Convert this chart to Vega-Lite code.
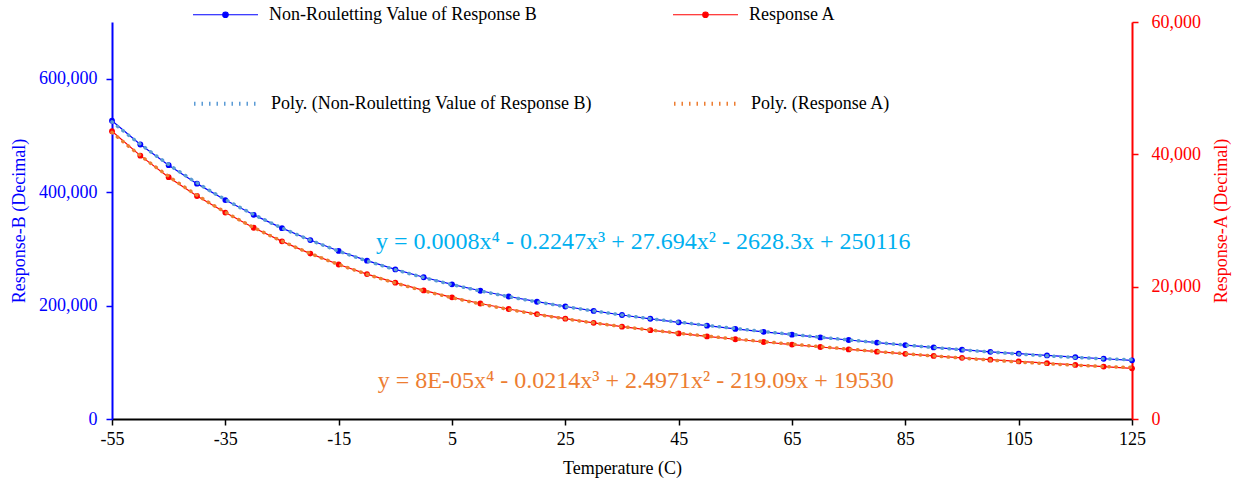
{
  "$schema": "https://vega.github.io/schema/vega-lite/v6.json",
  "width": 1020,
  "height": 397,
  "autosize": "none",
  "padding": {"left": 112, "top": 22, "right": 103, "bottom": 64},
  "background": "white",
  "config": {
    "font": "Liberation Serif",
    "view": {"stroke": null},
    "axis": {"labelFont": "Liberation Serif", "titleFont": "Liberation Serif", "labelFontSize": 18, "titleFontSize": 18, "titleFontWeight": "normal", "grid": false}
  },
  "datasets": {
    "main": [
      {"T": -55, "B": 526000, "A": 43500},
      {"T": -50, "B": 484000, "A": 39800},
      {"T": -45, "B": 447500, "A": 36550},
      {"T": -40, "B": 415000, "A": 33700},
      {"T": -35, "B": 386000, "A": 31200},
      {"T": -30, "B": 360000, "A": 28900},
      {"T": -25, "B": 336500, "A": 26850},
      {"T": -20, "B": 315500, "A": 25000},
      {"T": -15, "B": 296300, "A": 23350},
      {"T": -10, "B": 279200, "A": 21900},
      {"T": -5, "B": 263800, "A": 20600},
      {"T": 0, "B": 250000, "A": 19430},
      {"T": 5, "B": 237500, "A": 18390},
      {"T": 10, "B": 226200, "A": 17460},
      {"T": 15, "B": 216000, "A": 16620},
      {"T": 20, "B": 206800, "A": 15860},
      {"T": 25, "B": 198400, "A": 15170},
      {"T": 30, "B": 190600, "A": 14540},
      {"T": 35, "B": 183400, "A": 13960},
      {"T": 40, "B": 176700, "A": 13430},
      {"T": 45, "B": 170400, "A": 12940},
      {"T": 50, "B": 164500, "A": 12480},
      {"T": 55, "B": 158900, "A": 12050},
      {"T": 60, "B": 153700, "A": 11640},
      {"T": 65, "B": 148700, "A": 11250},
      {"T": 70, "B": 143900, "A": 10880},
      {"T": 75, "B": 139300, "A": 10520},
      {"T": 80, "B": 134800, "A": 10180},
      {"T": 85, "B": 130400, "A": 9850},
      {"T": 90, "B": 126200, "A": 9540},
      {"T": 95, "B": 122200, "A": 9250},
      {"T": 100, "B": 118500, "A": 8970},
      {"T": 105, "B": 115200, "A": 8700},
      {"T": 110, "B": 112100, "A": 8440},
      {"T": 115, "B": 109100, "A": 8180},
      {"T": 120, "B": 106200, "A": 7920},
      {"T": 125, "B": 103400, "A": 7660}
    ],
    "eqB": [{"label": "y = 0.0008x⁴ - 0.2247x³ + 27.694x² - 2628.3x + 250116"}],
    "eqA": [{"label": "y = 8E-05x⁴ - 0.0214x³ + 2.4971x² - 219.09x + 19530"}]
  },
  "data": {"name": "main"},
  "layer": [
    {
      "layer": [
        {
          "mark": {"type": "line", "strokeWidth": 1.2},
          "encoding": {
            "x": {
              "field": "T", "type": "quantitative",
              "scale": {"domain": [-55, 125], "nice": false, "zero": false},
              "axis": {
                "orient": "bottom", "title": "Temperature (C)", "values": [-55, -35, -15, 5, 25, 45, 65, 85, 105, 125],
                "labelExpr": "'' + datum.value", "labelFlush": false,
                "domainColor": "black", "domainWidth": 2, "tickColor": "black", "tickWidth": 1.5, "tickSize": 6,
                "labelColor": "black", "titleColor": "black", "labelPadding": 5, "titlePadding": 11
              }
            },
            "y": {
              "field": "B", "type": "quantitative",
              "scale": {"domain": [0, 700000], "nice": false},
              "axis": {
                "orient": "left", "title": "Response-B (Decimal)", "values": [0, 200000, 400000, 600000], "format": ",d",
                "domainColor": "#0000FF", "domainWidth": 2, "tickColor": "#0000FF", "tickWidth": 1.5, "tickSize": 6,
                "labelColor": "#0000FF", "titleColor": "#0000FF", "labelPadding": 9, "titlePadding": 10
              }
            },
            "color": {"datum": "Non-Rouletting Value of Response B", "type": "nominal",
              "scale": {"domain": ["Non-Rouletting Value of Response B", "Response A"], "range": ["#0000FF", "#FF0000"]},
              "legend": {
                "orient": "none", "legendX": 80, "legendY": -41, "columns": 2, "title": null, "padding": 0,
                "columnPadding": 133, "labelFontSize": 18, "labelFont": "Liberation Serif", "labelColor": "black",
                "labelOffset": 10, "labelLimit": 600, "symbolSize": 4225, "symbolStrokeWidth": 1.2,
                "symbolType": "M-1,0H1M0.085,0A0.085,0.085,0,1,1,-0.085,0A0.085,0.085,0,1,1,0.085,0Z"
              }}
          }
        },
        {
          "mark": {"type": "point", "filled": true, "size": 34, "opacity": 1},
          "encoding": {
            "x": {"field": "T", "type": "quantitative"},
            "y": {"field": "B", "type": "quantitative"},
            "color": {"datum": "Non-Rouletting Value of Response B", "type": "nominal"}
          }
        },
        {
          "transform": [{"regression": "B", "on": "T", "method": "poly", "order": 4}],
          "mark": {"type": "line", "strokeWidth": 3.5, "strokeDash": [0.5, 6.5], "strokeCap": "round"},
          "encoding": {
            "x": {"field": "T", "type": "quantitative"},
            "y": {"field": "B", "type": "quantitative"},
            "stroke": {"datum": "Poly. (Non-Rouletting Value of Response B)", "type": "nominal",
              "scale": {"domain": ["Poly. (Non-Rouletting Value of Response B)", "Poly. (Response A)"], "range": ["#5B9BD5", "#ED7D31"]},
              "legend": {
                "orient": "none", "legendX": 80, "legendY": 47, "columns": 2, "title": null, "padding": 0,
                "columnPadding": 74, "labelFontSize": 18, "labelFont": "Liberation Serif", "labelColor": "black",
                "labelOffset": 10, "labelLimit": 600, "symbolSize": 4225, "symbolType": "stroke",
                "symbolStrokeWidth": 4, "symbolDash": [1.5, 6]
              }}
          }
        },
        {
          "data": {"name": "eqB"},
          "mark": {"type": "text", "align": "left", "baseline": "middle", "fontSize": 24, "font": "Liberation Serif", "color": "#00B0F0"},
          "encoding": {
            "x": {"datum": -8.4, "type": "quantitative"},
            "y": {"datum": 311500, "type": "quantitative"},
            "text": {"field": "label", "type": "nominal"}
          }
        }
      ]
    },
    {
      "layer": [
        {
          "mark": {"type": "line", "strokeWidth": 1.2},
          "encoding": {
            "x": {"field": "T", "type": "quantitative"},
            "y": {
              "field": "A", "type": "quantitative",
              "scale": {"domain": [0, 60000], "nice": false},
              "axis": {
                "orient": "right", "title": "Response-A (Decimal)", "values": [0, 20000, 40000, 60000], "format": ",d",
                "domainColor": "#FF0000", "domainWidth": 2, "tickColor": "#FF0000", "tickWidth": 1.5, "tickSize": 6,
                "labelColor": "#FF0000", "titleColor": "#FF0000", "labelPadding": 13, "titlePadding": 12,
                "titleAngle": 270, "titleBaseline": "top"
              }
            },
            "color": {"datum": "Response A", "type": "nominal"}
          }
        },
        {
          "mark": {"type": "point", "filled": true, "size": 34, "opacity": 1},
          "encoding": {
            "x": {"field": "T", "type": "quantitative"},
            "y": {"field": "A", "type": "quantitative"},
            "color": {"datum": "Response A", "type": "nominal"}
          }
        },
        {
          "transform": [{"regression": "A", "on": "T", "method": "poly", "order": 4}],
          "mark": {"type": "line", "strokeWidth": 3.5, "strokeDash": [0.5, 6.5], "strokeCap": "round"},
          "encoding": {
            "x": {"field": "T", "type": "quantitative"},
            "y": {"field": "A", "type": "quantitative"},
            "stroke": {"datum": "Poly. (Response A)", "type": "nominal"}
          }
        },
        {
          "data": {"name": "eqA"},
          "mark": {"type": "text", "align": "left", "baseline": "middle", "fontSize": 24, "font": "Liberation Serif", "color": "#ED7D31"},
          "encoding": {
            "x": {"datum": -8.1, "type": "quantitative"},
            "y": {"datum": 5760, "type": "quantitative"},
            "text": {"field": "label", "type": "nominal"}
          }
        }
      ]
    }
  ],
  "resolve": {"scale": {"y": "independent"}}
}
